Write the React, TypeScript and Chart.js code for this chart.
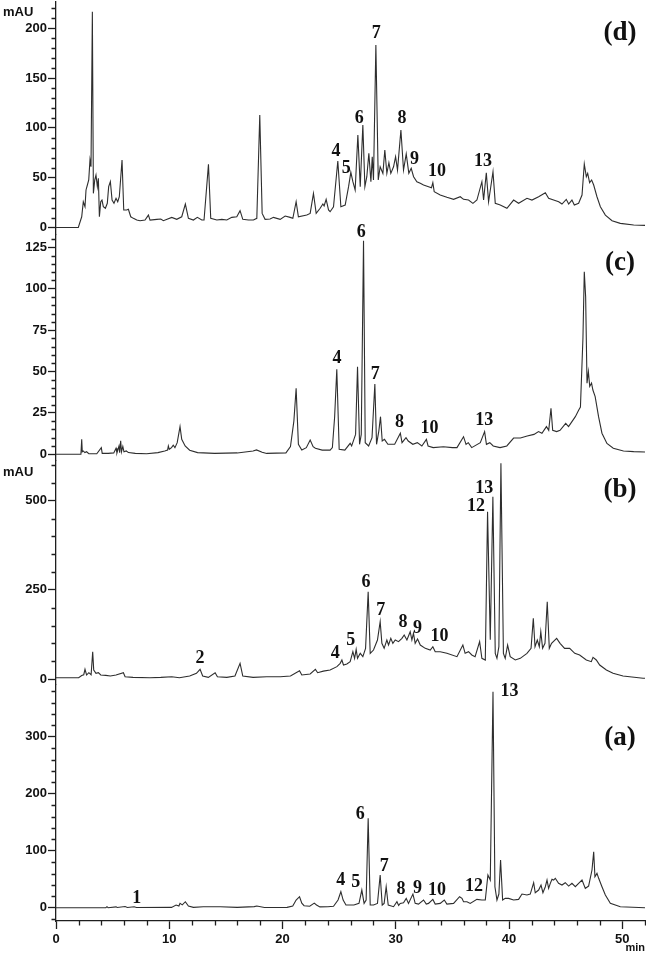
import React, { useEffect, useRef } from "react";
import { Chart, registerables } from "chart.js";

Chart.register(...registerables);

// ---- Chromatogram traces: [retention time (min), absorbance (mAU)] ----
const traceD: [number, number][] = [
  [0, 0], [1.97, 0], [2.27, 10.8], [2.41, 25.9], [2.56, 20.9], [2.65, 37.7], [2.77, 42.7], [2.89, 47.7],
  [3.0, 67.8], [3.09, 61], [3.21, 216.7], [3.3, 34.3], [3.42, 47.7], [3.53, 52.7], [3.65, 41], [3.74, 49.4],
  [3.83, 10.8], [3.95, 25.9], [4.06, 27.6], [4.18, 20.9], [4.36, 19.3], [4.53, 24.3], [4.65, 41], [4.8, 46],
  [4.95, 27.6], [5.12, 24.3], [5.3, 29.3], [5.45, 25.9], [5.59, 30.9], [5.83, 67.8], [5.98, 17.6], [6.24, 17.6],
  [6.39, 18.3], [6.6, 10.8], [6.83, 9.2], [7.13, 7.5], [7.42, 6.8], [7.86, 7.5], [8.16, 12.5], [8.3, 7.5],
  [8.9, 8.2], [9.25, 8.5], [9.48, 6.8], [10.22, 10.2], [10.66, 8.2], [11.1, 10.8], [11.42, 23.6], [11.69, 9.2],
  [12.13, 7.5], [12.48, 10.2], [12.87, 7.5], [13.07, 7.5], [13.46, 63.4], [13.66, 9.2], [14.2, 7.5], [14.64, 8.2],
  [15.08, 7.5], [15.52, 10.2], [15.96, 10.8], [16.25, 16.9], [16.49, 8.2], [16.99, 7.5], [17.43, 7.5], [17.73, 9.2],
  [17.99, 113], [18.2, 14.2], [18.46, 8.2], [18.9, 8.6], [19.2, 10.2], [19.79, 8.2], [20.23, 11.5], [20.67, 10.2],
  [20.91, 9.2], [21.2, 25.9], [21.4, 10.8], [22.14, 12.5], [22.44, 14.2], [22.73, 34.3], [22.97, 14.2], [23.32, 19.3],
  [23.56, 23.6], [23.67, 21.6], [23.85, 28.3], [24.06, 17.6], [24.2, 15.9], [24.5, 20.9], [24.88, 66.8], [25.15, 20.9],
  [25.53, 22.6], [25.83, 41], [26.03, 55.4], [26.21, 46], [26.41, 37.7], [26.65, 92.9], [26.86, 41], [27.09, 102.9],
  [27.27, 41], [27.44, 51], [27.62, 74.5], [27.8, 46], [27.92, 71.1], [28.03, 47.7], [28.24, 183.2], [28.45, 47.7],
  [28.62, 61], [28.86, 54.4], [29.03, 77.8], [29.21, 54.4], [29.39, 65.1], [29.56, 54.4], [29.8, 61], [29.98, 71.1],
  [30.15, 57.7], [30.45, 97.9], [30.68, 57.7], [30.92, 73.8], [31.15, 54.4], [31.36, 59.4], [31.57, 51], [31.86, 46],
  [32.16, 44.4], [32.45, 42.7], [32.89, 41], [33.15, 40], [33.27, 45], [33.39, 36], [33.92, 32.6], [34.51, 30.3],
  [35.1, 28.3], [35.69, 30.9], [35.98, 28.3], [36.42, 27.6], [36.81, 24.3], [37.16, 27.6], [37.6, 46], [37.75, 27.6],
  [37.99, 55], [38.19, 25.9], [38.58, 56], [38.78, 24.3], [39.22, 22.6], [39.81, 19.3], [40.4, 27.6], [40.84, 24.3],
  [41.58, 29.3], [42.02, 27.6], [42.61, 30.9], [43.2, 35], [43.49, 29.3], [43.93, 27.6], [44.38, 25.9], [44.67, 23.6],
  [45.05, 28.3], [45.26, 23.6], [45.55, 27.6], [45.76, 22.6], [46.14, 24.3], [46.44, 32.6], [46.64, 63.8], [46.82, 51],
  [46.94, 54.4], [47.11, 45], [47.29, 47.7], [47.47, 42.7], [47.76, 30.9], [48.06, 20.9], [48.5, 12.5], [49.09, 6.8],
  [49.82, 4.2], [51.0, 2.5], [52, 2.2],
];

const traceC: [number, number][] = [
  [0, 0], [2.2, 0], [2.27, 9.1], [2.32, 1.5], [2.4, 2], [2.55, 1], [2.7, 1.5], [2.9, 0.3], [3.6, 0.3], [4.0, 4],
  [4.08, 0.5], [4.6, 0.5], [5.1, 0.8], [5.3, 3.6], [5.38, 0.8], [5.56, 5], [5.62, 1], [5.71, 8.2], [5.78, 1.5],
  [5.9, 4.7], [6.0, 1.5], [6.2, 2], [6.4, 1], [7.0, 0.5], [8.0, 0.3], [9.0, 1], [9.6, 2], [9.85, 2.5], [9.92, 5],
  [10.0, 3], [10.2, 4], [10.35, 5.5], [10.5, 4], [10.7, 7], [10.95, 16.7], [11.1, 9], [11.4, 5], [11.8, 2.4],
  [12.5, 1], [14, 0.5], [16, 0.8], [17.4, 2], [17.7, 2.6], [18.2, 1.2], [18.6, 0.5], [20.3, 0.8], [20.7, 4.6],
  [21.0, 20], [21.2, 39.9], [21.4, 6], [21.7, 2.6], [22.1, 4], [22.44, 8.6], [22.7, 4.6], [22.9, 3.6], [23.5, 2.5],
  [24.2, 2.5], [24.4, 4], [24.6, 22.7], [24.79, 51.3], [25.0, 3], [25.5, 2.5], [25.97, 6.6], [26.1, 5], [26.3, 9],
  [26.45, 12], [26.62, 52.9], [26.8, 6], [26.95, 12], [27.15, 129], [27.3, 7], [27.6, 5], [27.9, 10], [28.15, 42.5],
  [28.3, 6], [28.5, 14], [28.65, 22.7], [28.8, 8], [29.0, 9], [29.3, 6], [29.9, 6], [30.4, 12.7], [30.55, 7],
  [30.9, 10], [31.1, 8], [31.5, 6], [31.9, 7], [32.3, 5], [32.7, 9], [32.85, 5], [33.3, 4], [34.2, 4.5], [35.0, 4],
  [35.4, 4], [35.98, 10.6], [36.2, 6], [36.4, 7], [36.7, 4], [37.46, 7], [37.84, 13.7], [38.0, 6], [38.3, 7],
  [38.6, 5], [39.2, 4], [39.8, 5], [40.4, 9.8], [41.0, 9.8], [41.6, 11], [42.2, 12], [42.6, 13.7], [42.9, 12.7],
  [43.3, 16.7], [43.5, 14.5], [43.7, 27.8], [43.85, 14.5], [44.2, 13.7], [44.5, 14.5], [45.0, 18.7], [45.25, 16.7],
  [45.55, 19.7], [45.85, 22.7], [46.15, 26.8], [46.3, 28.5], [46.52, 70], [46.64, 110.3], [46.76, 95], [46.88, 42.9],
  [47.0, 50], [47.12, 41], [47.28, 43], [47.4, 38.8], [47.6, 34.8], [47.9, 22.7], [48.2, 12.7], [48.64, 6.5],
  [49.2, 3.6], [50.1, 2], [51, 1.6], [52, 1.4],
];

const traceB: [number, number][] = [
  [0, 3.7], [2.0, 3.7], [2.27, 10], [2.45, 12], [2.56, 27.1], [2.7, 11.2], [2.9, 17.7], [3.1, 12], [3.24, 76.6],
  [3.33, 25.2], [3.53, 16], [3.74, 17.7], [3.95, 11.2], [4.4, 10.3], [4.8, 8.4], [5.3, 11.2], [5.95, 17.7],
  [6.1, 6.5], [6.8, 4.7], [8.3, 3.7], [9.25, 4.7], [10.22, 6.5], [10.9, 3.7], [11.8, 8.4], [12.4, 16], [12.72, 27.1],
  [12.95, 8.4], [13.45, 4.7], [14.05, 17.7], [14.25, 6.5], [15.08, 4.7], [15.8, 8.4], [16.25, 43.9], [16.49, 8.4],
  [17.4, 4.7], [18.6, 6.5], [19.8, 6.5], [20.7, 8.4], [21.5, 23.4], [21.7, 11.2], [22.44, 14], [22.9, 27.1],
  [23.1, 17.7], [23.6, 22], [24.2, 25], [24.8, 34.6], [25.09, 43.9], [25.24, 53.3], [25.38, 39.3], [25.68, 42],
  [25.97, 48.6], [26.21, 76.6], [26.36, 58], [26.5, 83.2], [26.62, 58], [26.86, 72], [27.09, 62.6], [27.33, 86],
  [27.56, 244.8], [27.74, 72], [28.03, 81.3], [28.38, 109.4], [28.62, 160.7], [28.77, 100], [28.97, 86],
  [29.21, 109.4], [29.36, 95.3], [29.56, 114], [29.74, 100], [29.95, 109.4], [30.24, 104.7], [30.54, 114],
  [30.74, 123.4], [30.98, 109.4], [31.27, 132.7], [31.42, 109.4], [31.56, 128], [31.71, 100], [31.92, 112],
  [32.16, 95.3], [32.6, 86], [33.04, 81.3], [33.27, 90.6], [33.48, 76.6], [33.92, 76.6], [34.51, 72], [35.4, 62.6],
  [35.92, 95.3], [36.12, 72], [36.42, 76.6], [36.71, 67.3], [37.0, 62.6], [37.4, 104.7], [37.6, 58], [37.9, 53.3],
  [38.1, 469.2], [38.34, 110], [38.57, 511.2], [38.78, 72], [38.93, 58], [39.1, 90.6], [39.28, 604.9], [39.5, 72],
  [39.66, 58], [39.87, 95.3], [40.1, 62.6], [40.55, 53.3], [40.99, 58], [41.58, 72], [41.94, 86], [42.14, 170.2],
  [42.29, 90.6], [42.49, 109.4], [42.67, 90.6], [42.8, 132.7], [42.96, 86], [43.17, 100], [43.37, 216.8], [43.55, 86],
  [43.75, 100], [44.2, 114], [44.5, 100], [44.9, 86], [45.35, 86], [45.8, 72], [46.23, 67.3], [46.82, 53.3],
  [47.26, 48.6], [47.41, 60.7], [47.7, 53.3], [48.0, 39.3], [48.59, 25.2], [49.18, 16], [50.06, 8.4], [51.83, 2],
  [52, 2],
];

const traceA: [number, number][] = [
  [0, 0], [4.4, 0], [4.5, 1.8], [4.6, 0], [5.3, 1.5], [5.4, 0.3], [6.1, 2], [6.3, 0.3], [6.9, 1.8], [7.1, 0.3],
  [10.2, 0.6], [10.6, 4.7], [10.85, 2.9], [10.95, 7.6], [11.15, 5], [11.42, 10.5], [11.69, 2.9], [12.13, 0.6],
  [13, 1.8], [14.5, 1.8], [16, 0.6], [17.5, 2], [17.73, 2.9], [18.4, 0.3], [20.4, 0.6], [20.9, 3], [21.2, 13.5],
  [21.5, 19.3], [21.7, 8], [21.9, 3.5], [22.4, 2.5], [22.8, 8], [23.0, 4.7], [23.3, 1.5], [24.0, 1.8], [24.5, 2.5],
  [24.9, 13.5], [25.15, 28.1], [25.35, 13.5], [25.6, 4.7], [26.3, 4.7], [26.75, 7.6], [27.0, 31], [27.2, 7.6],
  [27.38, 13.5], [27.56, 156.8], [27.74, 4.7], [28.03, 4.7], [28.38, 7.6], [28.62, 57.4], [28.8, 4.7], [28.97, 7.6],
  [29.15, 36.8], [29.33, 4.7], [29.8, 1.8], [30.1, 10.5], [30.25, 4], [30.39, 7.6], [30.68, 8.8], [30.92, 16.4],
  [31.12, 7.6], [31.51, 24], [31.71, 7.6], [32.0, 6.4], [32.45, 13.5], [32.69, 6.4], [32.89, 7.6], [33.27, 14.6],
  [33.48, 6.4], [33.92, 7.6], [34.28, 13.5], [34.51, 6.4], [35.1, 7.6], [35.63, 19.3], [35.84, 16.4], [35.98, 10.5],
  [36.28, 10.5], [36.57, 7.6], [37.16, 14.6], [37.6, 13.5], [37.9, 13.5], [38.13, 57.4], [38.34, 48.6],
  [38.58, 378.9], [38.75, 36.8], [38.93, 13.5], [39.1, 24], [39.25, 83.7], [39.43, 13.5], [39.66, 16.4],
  [39.96, 16.4], [40.4, 13.5], [40.84, 14.6], [41.14, 24], [41.58, 22.3], [41.87, 24], [42.17, 43.9], [42.31, 26.3],
  [42.61, 31], [42.82, 39.8], [42.99, 26.3], [43.2, 36.8], [43.35, 48.6], [43.49, 34], [43.64, 42.8], [43.79, 49.8],
  [43.93, 48.6], [44.08, 51.6], [44.37, 42.8], [44.67, 39.8], [44.96, 43.9], [45.26, 38], [45.55, 42.8],
  [45.85, 36.8], [46.14, 42.8], [46.44, 48.6], [46.73, 34], [47.02, 38], [47.32, 66.1], [47.47, 98.2], [47.58, 54.4],
  [47.76, 60.3], [47.91, 51.6], [48.2, 36.8], [48.5, 22.3], [48.94, 7.6], [49.82, 1.8], [52, 0],
];

// ---- Peak labels: name, retention time, absorbance level of the label ----
const peakNamesD = ["4", "5", "6", "7", "8", "9", "10", "13"];
const peakTimesD = [24.73, 25.62, 26.77, 28.27, 30.54, 31.65, 33.63, 37.7];
const peakLevelsD = [76, 59.7, 110, 195.3, 109.6, 68.5, 56, 66];

const peakNamesC = ["4", "6", "7", "8", "10", "13"];
const peakTimesC = [24.8, 26.94, 28.18, 30.33, 32.97, 37.8];
const peakLevelsC = [58, 134.2, 48.5, 19.1, 15.7, 20.7];

const peakNamesB = ["2", "4", "5", "6", "7", "8", "9", "10", "12", "13"];
const peakTimesB = [12.72, 24.65, 26.03, 27.36, 28.68, 30.63, 31.92, 33.86, 37.07, 37.8];
const peakLevelsB = [58, 72.6, 109.4, 270.3, 193, 157.8, 142, 118.5, 483, 535];

const peakNamesA = ["1", "4", "5", "6", "7", "8", "9", "10", "12", "13"];
const peakTimesA = [7.13, 25.14, 26.47, 26.86, 28.98, 30.45, 31.92, 33.63, 36.9, 40.04];
const peakLevelsA = [16.5, 47.2, 44.4, 164.4, 72.5, 32.8, 34.6, 31.2, 37.2, 379.5];

// ---- Panel tags and axis ranges ----
const panelTags = ["(d)", "(c)", "(b)", "(a)"];
const panelTagTime = 49.8;
const panelTagLevels = [195, 115.3, 530, 297];
const axisMin = [-6.8, -3.9, -15.4, -23.3];
const axisMax = [226.4, 132.9, 612.2, 391.6];
const minorSteps = [10, 5, 50, 20];
const majorSteps = [50, 25, 250, 100];
const panelHeights = [232.3, 226.4, 223.8, 236.5];
const unitLabelLevels = [216, null, 580, null];
const timeMin = 0;
const timeMax = 52;
const timeMinorStep = 2;
const timeMajorStep = 10;

const SANS = '"Liberation Sans", Arial, Helvetica, sans-serif';
const SERIF = '"Liberation Serif", "Times New Roman", Times, serif';
const INK = "#111";
const AXIS = "#1e1e1e";

const axisIds = ["yD", "yC", "yB", "yA"];

function isMult(v: number, step: number) {
  const r = v / step;
  return Math.abs(r - Math.round(r)) < 1e-6;
}

function stepValues(min: number, max: number, step: number) {
  const out: number[] = [];
  for (let k = Math.ceil(min / step); k * step <= max + 1e-9; k++) out.push(k * step);
  return out;
}

function makeY(i: number) {
  const major = majorSteps[i];
  return {
    type: "linear",
    position: "left",
    stack: "panels",
    stackWeight: panelHeights[i],
    weight: 10 - i,
    min: axisMin[i],
    max: axisMax[i],
    afterBuildTicks: (s: any) => {
      s.ticks = s.ticks.filter((t: any) => isMult(t.value, major));
    },
    afterFit: (s: any) => {
      s.width = 56;
      s.paddingTop = 0;
      s.paddingBottom = 0;
    },
    ticks: {
      stepSize: major,
      autoSkip: false,
      includeBounds: false,
      padding: 1,
      color: INK,
      font: { family: SANS, size: 13, weight: "bold" },
    },
    grid: {
      drawOnChartArea: false,
      tickLength: 8,
      tickWidth: 1.3,
      tickColor: AXIS,
    },
    border: { display: true, color: AXIS, width: 1.3 },
  };
}

const peakSets = [
  { names: peakNamesD, times: peakTimesD, levels: peakLevelsD },
  { names: peakNamesC, times: peakTimesC, levels: peakLevelsC },
  { names: peakNamesB, times: peakTimesB, levels: peakLevelsB },
  { names: peakNamesA, times: peakTimesA, levels: peakLevelsA },
];

// short minor tick marks, placed through each scale's value-to-pixel mapping
function drawMinorTicks(chart: any) {
  const ctx = chart.ctx;
  ctx.save();
  ctx.strokeStyle = AXIS;
  ctx.lineWidth = 1.3;
  ctx.beginPath();
  axisIds.forEach((id, i) => {
    const s = chart.scales[id];
    stepValues(axisMin[i], axisMax[i], minorSteps[i]).forEach((v) => {
      if (isMult(v, majorSteps[i])) return;
      const y = Math.round(s.getPixelForValue(v)) + 0.5;
      ctx.moveTo(s.right - 4.5, y);
      ctx.lineTo(s.right, y);
    });
  });
  const xs = chart.scales.x;
  stepValues(timeMin, timeMax, timeMinorStep).forEach((v) => {
    if (isMult(v, timeMajorStep)) return;
    const x = Math.round(xs.getPixelForValue(v)) + 0.5;
    ctx.moveTo(x, xs.top);
    ctx.lineTo(x, xs.top + 4.5);
  });
  ctx.stroke();
  ctx.restore();
}

const labelPlugin = {
  id: "peakLabels",
  afterDatasetsDraw(chart: any) {
    const ctx = chart.ctx;
    const xs = chart.scales.x;
    ctx.save();
    ctx.fillStyle = INK;
    ctx.textAlign = "center";
    ctx.textBaseline = "middle";
    peakSets.forEach((set, i) => {
      const ys = chart.scales[axisIds[i]];
      ctx.font = `bold 18px ${SERIF}`;
      set.names.forEach((n, k) => {
        ctx.fillText(n, xs.getPixelForValue(set.times[k]), ys.getPixelForValue(set.levels[k]));
      });
      ctx.font = `bold 27px ${SERIF}`;
      ctx.fillText(panelTags[i], xs.getPixelForValue(panelTagTime), ys.getPixelForValue(panelTagLevels[i]));
      const u = unitLabelLevels[i];
      if (u !== null) {
        ctx.font = `bold 13px ${SANS}`;
        ctx.textAlign = "left";
        ctx.fillText("mAU", ys.left + 3, ys.getPixelForValue(u));
        ctx.textAlign = "center";
      }
    });
    ctx.restore();
    drawMinorTicks(chart);
  },
};

export default function App() {
  const ref = useRef<HTMLCanvasElement>(null);
  useEffect(() => {
    const traces = [traceD, traceC, traceB, traceA];
    const scales: any = {
      x: {
        type: "linear",
        position: "bottom",
        min: timeMin,
        max: timeMax,
        afterBuildTicks: (s: any) => {
          s.ticks = s.ticks.filter((t: any) => isMult(t.value, timeMajorStep));
        },
        afterFit: (s: any) => {
          s.height = 34;
          s.paddingLeft = 0;
          s.paddingRight = 0;
        },
        ticks: {
          stepSize: timeMajorStep,
          autoSkip: false,
          includeBounds: false,
          maxRotation: 0,
          padding: 3,
          color: INK,
          font: { family: SANS, size: 13, weight: "bold" },
        },
        grid: {
          drawOnChartArea: false,
          tickLength: 8,
          tickWidth: 1.3,
          tickColor: AXIS,
        },
        border: { display: true, color: AXIS, width: 1.3 },
        title: {
          display: true,
          text: "min",
          align: "end",
          padding: 0,
          color: INK,
          font: { family: SANS, size: 11, weight: "bold" },
        },
      },
    };
    axisIds.forEach((id, i) => {
      scales[id] = makeY(i);
    });
    const chart = new Chart(ref.current as HTMLCanvasElement, {
      type: "line",
      data: {
        datasets: traces.map((tr, i) => ({
          label: panelTags[i],
          data: tr.map(([t, v]) => ({ x: t, y: v })),
          xAxisID: "x",
          yAxisID: axisIds[i],
          borderColor: "#2e2e2e",
          borderWidth: 1.1,
          pointRadius: 0,
          tension: 0,
          fill: false,
        })),
      },
      options: {
        animation: false,
        responsive: true,
        maintainAspectRatio: false,
        layout: { padding: { top: 2, right: 1, left: 0, bottom: 0 } },
        plugins: { legend: { display: false }, tooltip: { enabled: false } },
        scales,
      } as any,
      plugins: [labelPlugin],
    });
    return () => chart.destroy();
  }, []);
  return (
    <div style={{ position: "absolute", left: 0, top: 0, width: 646, height: 955, background: "#fff" }}>
      <canvas ref={ref} />
    </div>
  );
}
